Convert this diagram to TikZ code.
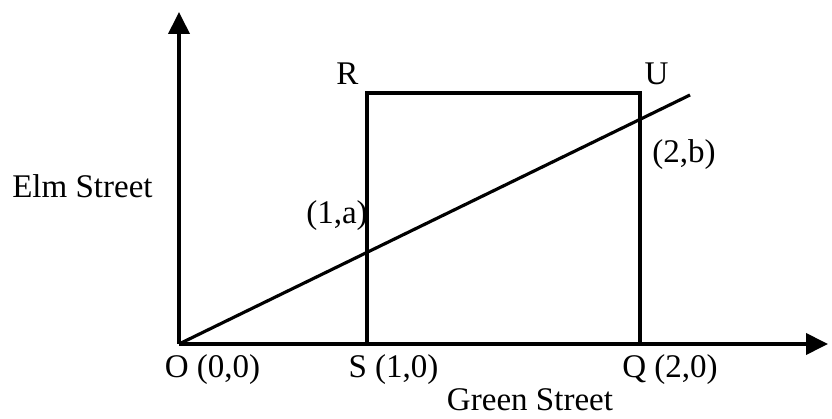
\documentclass[tikz,border=0pt]{standalone}
\usepackage{fontspec}
\setmainfont{Liberation Serif}
\usetikzlibrary{arrows.meta,positioning}

\begin{document}
\begin{tikzpicture}[
    axis/.style={line width=2.2pt, -{Triangle[width=4.2mm,length=4.4mm]}},
    edge/.style={line width=1.8pt},
    lbl/.style={font=\fontsize{18.8}{22}\selectfont, inner sep=0pt},
]
\useasboundingbox (-3.58,-1.5) rectangle (13.06,6.88);
% corners
\coordinate (O) at (0,0);
\coordinate (S) at (3.76,0);
\coordinate (Q) at (9.22,0);
\coordinate (R) at (3.76,5.02);
\coordinate (U) at (9.22,5.02);
\coordinate (ytip) at (0,6.64);
\coordinate (xtip) at (12.98,0);
\coordinate (lend) at (10.22,4.98);
% axes
\draw[axis] (O) -- (ytip);
\draw[axis] (O) -- (xtip);
% lot and line
\draw[edge] (S) -- (R) -- (U) -- (Q);
\draw[edge] (O) -- (lend);
% labels
\node[lbl] (rlbl) at (3.37,5.40) {R};
\node[lbl] (ulbl) at (9.55,5.40) {U};
\node[lbl, anchor=west] (blbl) at (9.46,3.78) {(2,b)};
\node[lbl] (albl) at (3.16,2.56) {(1,a)};
\node[lbl, anchor=base east] (elm) at (-0.52,2.92) {Elm Street};
\node[lbl, anchor=base] (olbl) at (0.67,-0.66) {O (0,0)};
\node[lbl, anchor=base] (slbl) at (4.29,-0.66) {S (1,0)};
\node[lbl, anchor=base] (qlbl) at (9.82,-0.66) {Q (2,0)};
\node[lbl, anchor=base] (green) at (7.02,-1.32) {Green Street};
\end{tikzpicture}
\end{document}
